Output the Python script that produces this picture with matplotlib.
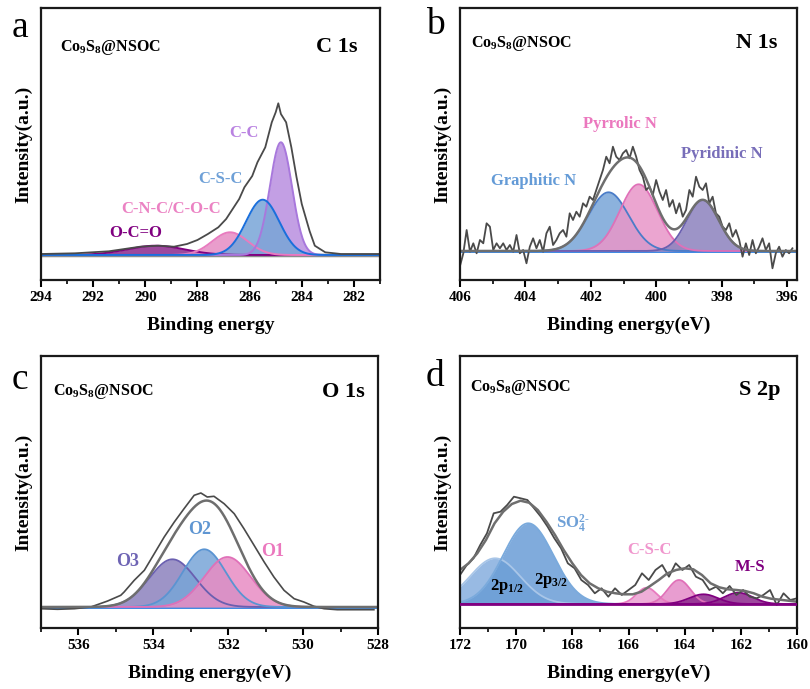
import numpy as np
import matplotlib
matplotlib.use("Agg")
import matplotlib.pyplot as plt
from matplotlib.ticker import MultipleLocator

plt.rcParams["font.family"] = ["Liberation Serif", "DejaVu Serif"]
plt.rcParams["font.weight"] = "bold"
plt.rcParams["mathtext.fontset"] = "custom"
plt.rcParams["mathtext.rm"] = "Liberation Serif:bold"
plt.rcParams["mathtext.bf"] = "Liberation Serif:bold"
plt.rcParams["mathtext.it"] = "Liberation Serif:bold"
plt.rcParams["mathtext.default"] = "bf"

SAMPLE = "Co$_9$S$_8$@NSOC"

# ── (a) C 1s ──────────────────────────────────────────────────────────────────
c1s_energy = [294, 292.7, 291.4, 290.2, 289.5, 288.9, 288.4, 288.0, 287.6, 287.2,
              286.9, 286.7, 286.4, 286.2, 285.9, 285.7, 285.4, 285.15, 285.0, 284.9,
              284.8, 284.6, 284.4, 284.2, 284.0, 283.7, 283.5, 283.1, 282.5, 281.0]
c1s_raw = [1, 1.7, 3.7, 8.3, 9.3, 8.3, 11, 15, 21, 27.7,
           36, 44, 56, 67.7, 79, 92.7, 107.7, 132.7, 142.7, 151.7,
           141, 132.7, 107.7, 77.7, 51, 24, 9.3, 2.7, 1, 1]
c1s_names = ["O-C=O", "C-N-C/C-O-C", "C-C", "C-S-C"]
c1s_center = [289.6, 286.75, 284.8, 285.5]
c1s_height = [9.3, 22.7, 112.7, 55.3]
c1s_fwhm = [2.6, 1.6, 1.0, 1.5]

# ── (b) N 1s ──────────────────────────────────────────────────────────────────
n1s_raw = [-15, -2.3, 21, -0.7, 7.7, -2.3, 11, 7.7, 27.7, 24.3,
           1, 7.7, 2.7, 7.7, 1, 6, -0.7, 16, -2.3, 1,
           -12.3, 4.3, 12.7, 2.7, 11, -0.7, 17.7, 24.3, 6, 11,
           17.7, 21, 14.3, 37.7, 31, 39.3, 34.3, 47.7, 44.3, 54.3,
           51, 61, 71, 81, 94.3, 87.7, 104.3, 94.3, 91, 97.7,
           101, 92.7, 104.3, 94.3, 81, 74.3, 61, 64.3, 56, 71,
           59.3, 51, 61, 44.3, 51, 37.7, 47.7, 34.3, 41, 61,
           54.3, 74.3, 64.3, 61, 67.7, 47.7, 54.3, 37.7, 34.3, 24.3,
           21, 27.7, 14.3, 21, 11, -5.7, 7.7, -4, 11, -2.3,
           4.3, 12.7, 1, 7.7, -17.3, -2.3, 4.3, -5.7, 1, -2.3, 2.7]
n1s_names = ["Graphitic N", "Pyrrolic N", "Pyridinic N"]
n1s_center = [401.46, 400.54, 398.58]
n1s_height = [58.7, 66.7, 51.0]
n1s_fwhm = [1.45, 1.35, 1.15]

# ── (c) O 1s ──────────────────────────────────────────────────────────────────
o1s_energy = [537.0, 536.56, 536.11, 535.67, 535.22, 534.87, 534.78, 534.51, 534.24,
              533.98, 533.71, 533.44, 533.18, 532.91, 532.73, 532.56, 532.38, 532.11,
              531.84, 531.58, 531.31, 531.04, 530.78, 530.51, 530.24, 529.98, 529.71,
              529.44, 529.09, 528.11]
o1s_raw = [-1.7, -2.3, -1.7, 0, 6, 11.7, 15, 26.7, 36.7,
           53, 70, 85, 98.3, 111.7, 114, 110, 110.7, 103.3,
           93.3, 78.3, 61.7, 45, 30, 16.7, 8.3, 5, 0.7,
           -1.7, -2.7, -2.7]
o1s_names = ["O3", "O2", "O1"]
o1s_center = [533.49, 532.64, 532.02]
o1s_height = [47.7, 57.7, 50.0]
o1s_fwhm = [1.45, 1.35, 1.45]

# ── (d) S 2p ──────────────────────────────────────────────────────────────────
s2p_raw = [29, 39, 45.7, 59, 70.7, 90.7, 92.3, 99, 107.3, 105.7,
           104, 95.7, 87.3, 77.3, 65.7, 55.7, 40.7, 35.7, 24, 19,
           10.7, 15.7, 7.3, 15.7, 9, 14, 19, 30.7, 24, 34,
           39, 27.3, 40.7, 34, 39, 27.3, 24, 14, 17.3, 10.7,
           18, 9, 14, 7.3, 5.7, 9, 14, -1, 10.7, 4, 5.7]
s2p_fit = [34, 40.7, 50.7, 64, 80.7, 92.3, 100, 103.3, 101.3, 94,
           82.3, 69, 54, 40.7, 29, 20.7, 15.7, 12.3, 10.7, 9.7,
           9.7, 12.3, 18, 24, 30.7, 34, 35.7, 34.7, 29, 20.7,
           16.7, 14.7, 14, 13, 10.7, 7.3, 5.3, 4.3, 3.3, 2.3]
s2p_names = ["2p1/2", "2p3/2", "C-S-C a", "C-S-C b", "M-S a", "M-S b"]
s2p_center = [170.75, 169.57, 165.35, 164.2, 163.33, 162.09]
s2p_height = [45.7, 80.7, 16.3, 24.0, 9.7, 11.3]
s2p_fwhm = [2.1, 2.1, 0.85, 0.95, 1.2, 1.2]


def peak(x, center, height, fwhm):
    return height * np.exp(-4 * np.log(2) * ((x - center) / fwhm) ** 2)


def style_axes(ax, xlim, ylim, xlabel, title, tpos, spos):
    ax.set_xlim(*xlim)
    ax.set_ylim(*ylim)
    ax.set_yticks([])
    ax.xaxis.set_major_locator(MultipleLocator(2))
    ax.xaxis.set_minor_locator(MultipleLocator(1))
    ax.tick_params(axis="x", which="major", direction="out", length=5, width=1.5,
                   labelsize=11, pad=3)
    ax.tick_params(axis="x", which="minor", direction="out", length=3, width=1.2)
    for s in ax.spines.values():
        s.set_linewidth(1.6)
        s.set_color("#1a1a1a")
    ax.set_xlabel(xlabel, fontsize=14, fontweight="bold", labelpad=9)
    ax.set_ylabel("Intensity(a.u.)", fontsize=14, fontweight="bold", labelpad=6)
    ax.text(spos[0], spos[1], SAMPLE, transform=ax.transAxes, fontsize=11.5,
            ha="center", va="center")
    ax.text(tpos[0], tpos[1], title, transform=ax.transAxes, fontsize=16,
            fontweight="bold", ha="center", va="center")


def draw_peaks(ax, x, centers, heights, fwhms, fills, edges, alpha=0.8, lw=1.3):
    total = np.zeros_like(x)
    for c, h, w, fc, ec in zip(centers, heights, fwhms, fills, edges):
        y = peak(x, c, h, w)
        total += y
        ax.fill_between(x, 0, y, color=fc, alpha=alpha, lw=0)
        ax.plot(x, y, color=ec, lw=lw)
    return total


fig = plt.figure(figsize=(8.1, 6.89), dpi=100)
W, H = 810, 689


def add_ax(left, top, width, height):
    return fig.add_axes([left / W, 1 - (top + height) / H, width / W, height / H])


ax_a = add_ax(41, 8, 339, 272)
ax_b = add_ax(460, 8, 337, 272)
ax_c = add_ax(41, 356, 337, 272)
ax_d = add_ax(460, 356, 337, 272)

# (a)
xa = np.linspace(294, 281, 600)
ax_a.axhline(0, color="#8c8c8c", lw=2.5, zorder=1)
draw_peaks(ax_a, xa, c1s_center, c1s_height, c1s_fwhm,
           ["#8c288c", "#e68cc3", "#b98ee0", "#78a5d7"],
           ["#800080", "#e87bbf", "#a878dc", "#1a6fdc"], alpha=0.85, lw=1.4)
ax_a.plot(c1s_energy, c1s_raw, color="#4a4a4a", lw=1.3)
label_col_a = ["#800080", "#eb82c3", "#b982e1", "#6ea0d7"]
label_pos_a = [(290.35, 21.7), (289.0, 46), (286.2, 121.7), (287.1, 76)]
for name, (lx, ly), col in zip(c1s_names, label_pos_a, label_col_a):
    ax_a.text(lx, ly, name, color=col, fontsize=12, fontweight="bold",
              ha="center", va="center")
style_axes(ax_a, (294, 281), (-25, 247), "Binding energy", "C 1s",
           (0.873, 0.857), (0.204, 0.853))

# (b)
xb = np.linspace(406, 395.7, 600)
ax_b.axhline(0, color="#2a7de1", lw=2, zorder=1)
fit_b = draw_peaks(ax_b, xb, n1s_center, n1s_height, n1s_fwhm,
                   ["#78a5d7", "#e896c8", "#8c82be"],
                   ["#4a7cc8", "#e070b8", "#6a5fb0"], alpha=0.85)
ax_b.plot(np.linspace(406, 395.84, len(n1s_raw)), n1s_raw, color="#4a4a4a", lw=1.3)
ax_b.plot(xb, fit_b, color="#6e6e6e", lw=1.8)
label_col_b = ["#649bd7", "#eb78be", "#786eb9"]
label_pos_b = [(403.74, 70), (401.1, 127), (398.0, 97)]
for name, (lx, ly), col in zip(n1s_names, label_pos_b, label_col_b):
    ax_b.text(lx, ly, name, color=col, fontsize=12, fontweight="bold",
              ha="center", va="center")
style_axes(ax_b, (406, 395.7), (-29, 243), "Binding energy(eV)", "N 1s",
           (0.881, 0.871), (0.181, 0.871))

# (c)
xc = np.linspace(537, 528, 600)
ax_c.axhline(0, color="#2a7de1", lw=2, zorder=1)
fit_c = draw_peaks(ax_c, xc, o1s_center, o1s_height, o1s_fwhm,
                   ["#8c82be", "#78a5d7", "#e88cc3"],
                   ["#6a5fb0", "#5a94d2", "#e070b8"], alpha=0.85)
ax_c.plot(o1s_energy, o1s_raw, color="#4a4a4a", lw=1.2)
ax_c.plot(xc, fit_c, color="#6e6e6e", lw=1.8)
label_col_c = ["#6e64b4", "#5f96d2", "#eb78be"]
label_pos_c = [(534.68, 45.7), (532.76, 77.7), (530.82, 55)]
for name, (lx, ly), col in zip(o1s_names, label_pos_c, label_col_c):
    ax_c.text(lx, ly, name, color=col, fontsize=13, fontweight="bold",
              ha="center", va="center")
style_axes(ax_c, (537, 528), (-21, 251), "Binding energy(eV)", "O 1s",
           (0.896, 0.868), (0.184, 0.868))

# (d)
xd = np.linspace(172, 160, 600)
draw_peaks(ax_d, xd, s2p_center, s2p_height, s2p_fwhm,
           ["#86aede", "#6a9dd6", "#eba0d2", "#e48cc8", "#8c288c", "#8c288c"],
           ["#a9c6e8", "#7aaadc", "#e87bbf", "#e070b8", "#800080", "#800080"],
           alpha=0.85)
ax_d.axhline(0, color="#800080", lw=2, zorder=3)
ax_d.plot(np.linspace(172, 160, len(s2p_raw)), s2p_raw, color="#4a4a4a", lw=1.3)
ax_d.plot(np.linspace(172, 160, len(s2p_fit)), s2p_fit, color="#6e6e6e", lw=1.8)
ax_d.text(167.98, 80, r"SO$_4^{2\text{-}}$", color="#6ea0d7", fontsize=12,
          ha="center", va="center")
ax_d.text(165.27, 54, "C-S-C", color="#f096cd", fontsize=12, fontweight="bold",
          ha="center", va="center")
ax_d.text(161.67, 37, "M-S", color="#800080", fontsize=12, fontweight="bold",
          ha="center", va="center")
ax_d.text(170.33, 17, "2p$_{1/2}$", color="black", fontsize=12, ha="center", va="center")
ax_d.text(168.76, 23, "2p$_{3/2}$", color="black", fontsize=12, ha="center", va="center")
style_axes(ax_d, (172, 160), (-24, 248), "Binding energy(eV)", "S 2p",
           (0.89, 0.875), (0.178, 0.886))

# panel letters
for letter, (px, py) in zip("abcd", [(20, 28), (435, 25), (20, 380), (435, 377)]):
    fig.text(px / W, 1 - py / H, letter, fontsize=27, fontweight="normal",
             ha="center", va="center")

fig.savefig("out.png", dpi=100)
